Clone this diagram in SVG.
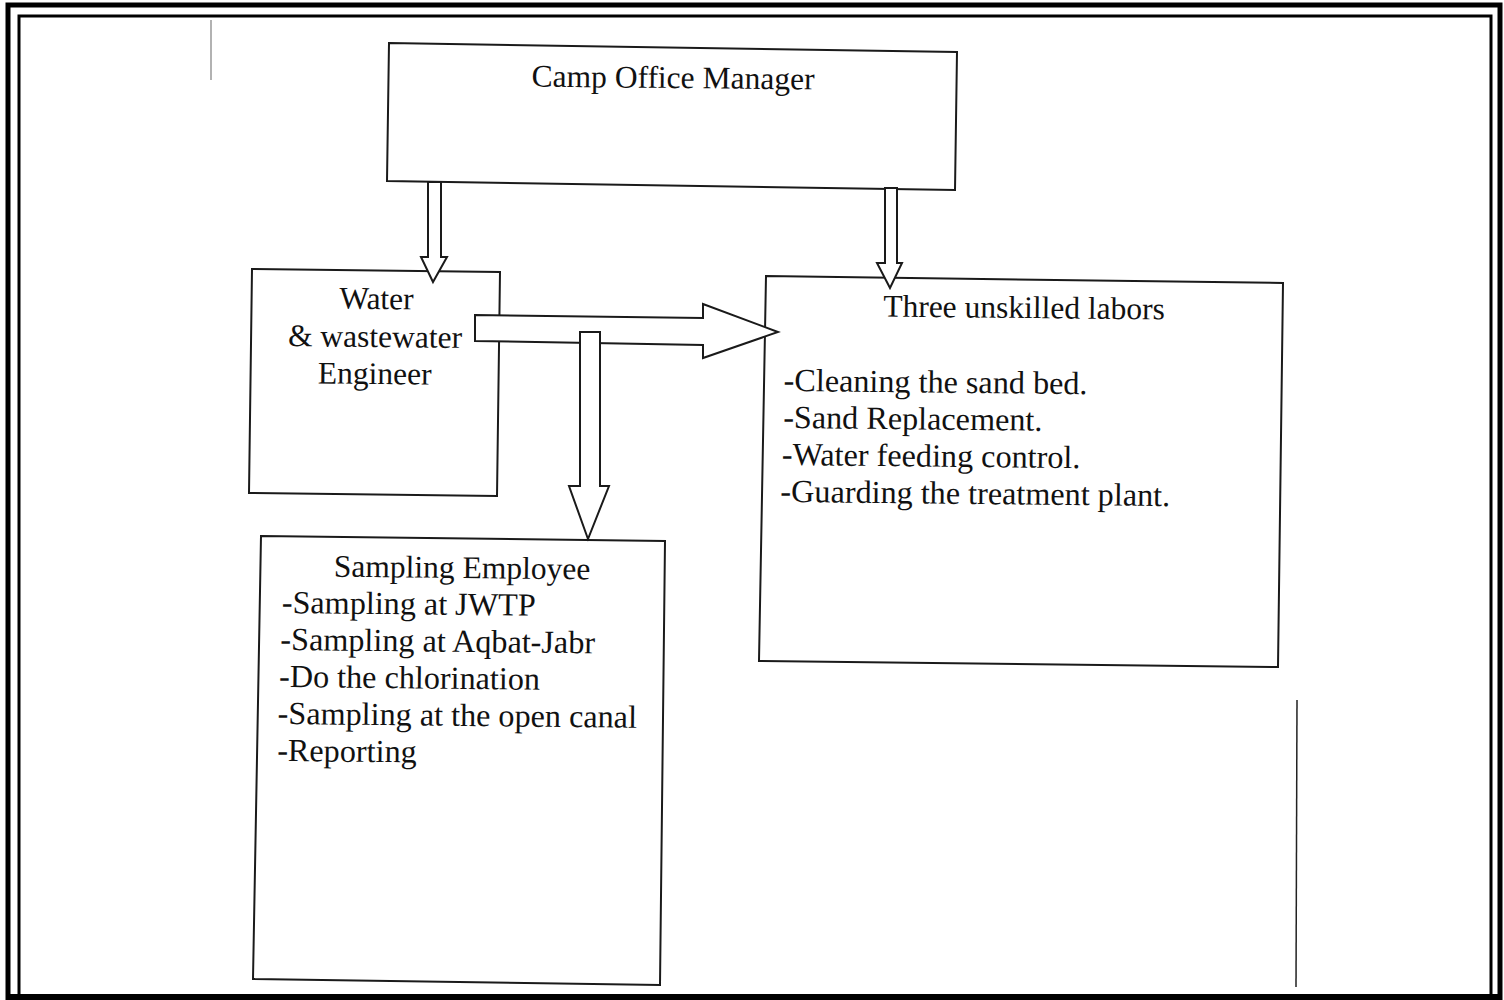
<svg xmlns="http://www.w3.org/2000/svg" width="1504" height="1000" viewBox="0 0 1504 1000">
<style>
.box{fill:#fff;stroke:#1a1a1a;stroke-width:2;stroke-linejoin:miter}
.arr{fill:#fff;stroke:#1a1a1a;stroke-width:2;stroke-linejoin:miter}
.t{font-family:"Liberation Serif","Times New Roman",serif;font-size:31.5px;fill:#111}
.l{font-size:32.2px}
.c{text-anchor:middle}
</style>
<rect x="0" y="0" width="1504" height="1000" fill="#fff"/>
<g id="frame" fill="none" stroke="#000">
<rect x="8" y="5" width="1492" height="1010" stroke-width="5"/>
<rect x="19" y="16" width="1472" height="980" stroke-width="3"/>
<line x1="8" y1="997" x2="1500" y2="997" stroke-width="6"/>
<line x1="211" y1="20" x2="211" y2="80" stroke="#999" stroke-width="1.5"/>
<line x1="1297" y1="700" x2="1296" y2="987" stroke="#222" stroke-width="1.5"/>
</g>
<g id="manager">
<polygon class="box" points="389,43 957,52 955,190 387,181"/>
<text class="t c" x="673" y="88" transform="rotate(0.6 673 88)">Camp Office Manager</text>
</g>
<g id="engineer">
<polygon class="box" points="252,269 500,272 497,496 249,493"/>
<text class="t c" transform="rotate(0.6 375 347)"><tspan x="376" y="309">Water</tspan><tspan x="375" y="347">&amp; wastewater</tspan><tspan x="375" y="384">Engineer</tspan></text>
</g>
<g id="labors">
<polygon class="box" points="766,276 1283,283 1278,667 759,661"/>
<text class="t c" x="1024" y="318" transform="rotate(0.6 1024 318)">Three unskilled labors</text>
<text class="t l" transform="rotate(0.6 783 440)"><tspan x="783" y="391">-Cleaning the sand bed.</tspan><tspan x="783" y="428">-Sand Replacement.</tspan><tspan x="782" y="465">-Water feeding control.</tspan><tspan x="781" y="502">-Guarding the treatment plant.</tspan></text>
</g>
<g id="sampling">
<polygon class="box" points="261,536 665,541 660,985 253,979"/>
<text class="t c" x="462" y="578" transform="rotate(0.6 462 578)">Sampling Employee</text>
<text class="t l" transform="rotate(0.6 280 680)"><tspan x="281" y="613">-Sampling at JWTP</tspan><tspan x="280" y="650">-Sampling at Aqbat-Jabr</tspan><tspan x="279" y="687">-Do the chlorination</tspan><tspan x="278" y="724">-Sampling at the open canal</tspan><tspan x="278" y="761">-Reporting</tspan></text>
</g>
<g id="connectors">
<polygon class="arr" points="428,182 441,182 441,257 447,257 433,282 421,257 428,257"/>
<polygon class="arr" points="885,188 897,188 897,263 902,263 890,288 877,263 885,263"/>
<polygon class="arr" points="475,315 703,318 703,304 778,332 703,358 703,345 475,341"/>
<polygon class="arr" points="580,332 600,332 600,486 609,486 588,539 569,486 580,486"/>
</g>
</svg>
